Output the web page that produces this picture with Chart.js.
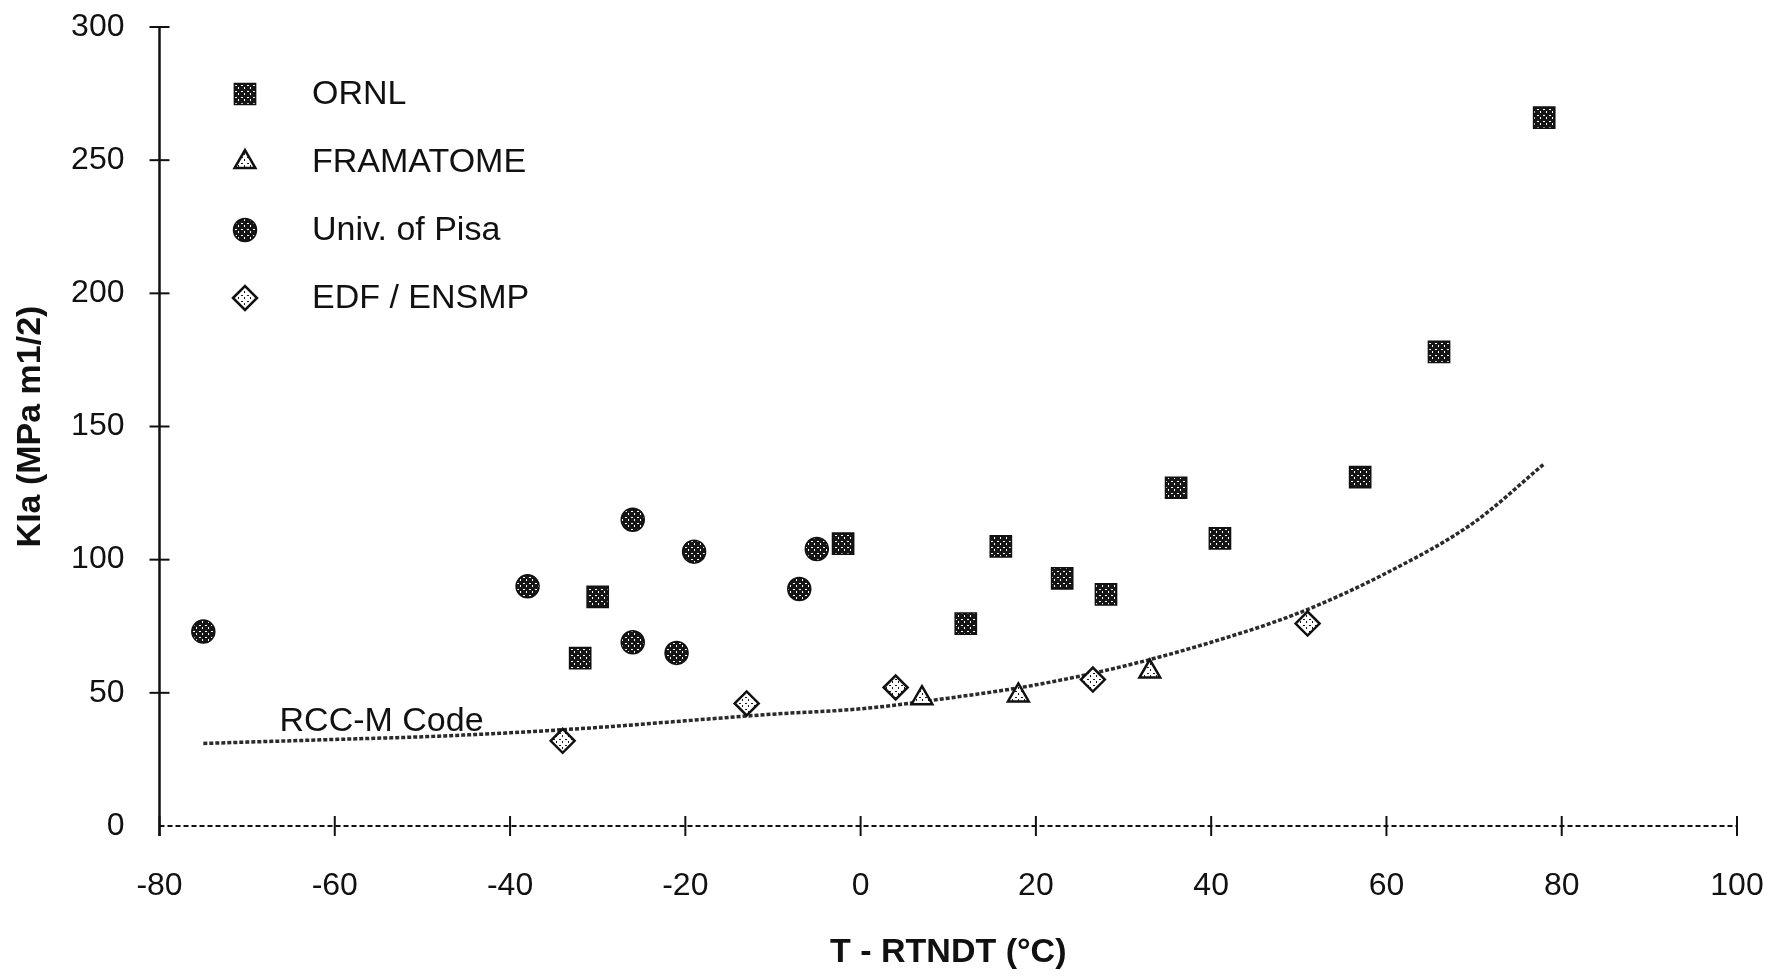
<!DOCTYPE html>
<html>
<head>
<meta charset="utf-8">
<title>KIa vs T - RTNDT</title>
<script src="https://cdn.jsdelivr.net/npm/chart.js"></script>
<style>
  body { margin: 0; background: #fff; }
  #wrap { width: 1774px; height: 979px; }
</style>
</head>
<body>
<div id="wrap"><canvas id="kiaChart" width="1774" height="979"></canvas></div>
<script>
// values
const ornlX = [-32, -30, -2, 12, 16, 23, 28, 36, 41, 57, 66, 78];
const ornlY = [63, 86, 106, 76, 105, 93, 87, 127, 108, 131, 178, 266];
const framX = [7, 18, 33];
const framY = [48, 49, 58];
const pisaX = [-75, -38, -26, -26, -21, -19, -7, -5];
const pisaY = [73, 90, 115, 69, 65, 103, 89, 104];
const edfX = [-34, -13, 4, 26.5, 51];
const edfY = [32, 46, 52, 55, 76];
// RCC-M reference curve, read at a few temperatures
const rccX = [-75, -70, -60, -50, -40, -30, -20, -10, 0, 10, 20, 30, 40, 50, 60, 70, 78];
const rccY = [31, 31.5, 32.5, 33.5, 35, 37, 39.5, 42, 44, 48, 53, 60, 69, 80, 95, 114, 136];
const xTicks = [-80, -60, -40, -20, 0, 20, 40, 60, 80, 100];
const yTicks = [0, 50, 100, 150, 200, 250, 300];
const seriesNames = ['ORNL', 'FRAMATOME', 'Univ. of Pisa', 'EDF / ENSMP'];
const curveLabel = 'RCC-M Code';

const FONT = '"Liberation Sans", Arial, Helvetica, sans-serif';

function pts(xs, ys) {
  return xs.map((x, i) => ({ x: x, y: ys[i] }));
}

// speckled fills to mimic the hatched markers of the scan
function speckle(bg, fg) {
  const c = document.createElement('canvas');
  c.width = 6; c.height = 6;
  const g = c.getContext('2d');
  g.fillStyle = bg; g.fillRect(0, 0, 6, 6);
  g.fillStyle = fg;
  g.fillRect(1, 1, 2, 1);
  g.fillRect(4, 3, 1, 2);
  return g.createPattern(c, 'repeat');
}
const darkFill = speckle('#161616', '#ffffff');
const lightFill = speckle('#ffffff', '#1a1a1a');

// axis lines and ticks that cross the axis, as in the original
const axisMarks = {
  id: 'axisMarks',
  beforeDatasetsDraw(chart) {
    const ctx = chart.ctx;
    const sx = chart.scales.x, sy = chart.scales.y;
    const x0 = sx.getPixelForValue(xTicks[0]);
    const y0 = sy.getPixelForValue(yTicks[0]);
    ctx.save();
    ctx.strokeStyle = '#111';
    // y axis
    ctx.lineWidth = 2.5;
    ctx.beginPath();
    ctx.moveTo(x0, sy.getPixelForValue(yTicks[yTicks.length - 1]));
    ctx.lineTo(x0, y0 + 10);
    ctx.stroke();
    ctx.lineWidth = 2;
    yTicks.forEach(v => {
      if (v === 0) return;
      const py = sy.getPixelForValue(v);
      ctx.beginPath();
      ctx.moveTo(x0 - 10, py);
      ctx.lineTo(x0 + 10, py);
      ctx.stroke();
    });
    // x axis (dotted in the scan)
    ctx.setLineDash([5, 3]);
    ctx.lineWidth = 2;
    ctx.beginPath();
    ctx.moveTo(x0, y0);
    ctx.lineTo(sx.getPixelForValue(xTicks[xTicks.length - 1]), y0);
    ctx.stroke();
    ctx.setLineDash([]);
    xTicks.forEach(v => {
      const px = sx.getPixelForValue(v);
      ctx.beginPath();
      ctx.moveTo(px, y0 - 10);
      ctx.lineTo(px, y0 + 10);
      ctx.stroke();
    });
    ctx.restore();
  }
};

// legend sitting inside the plot, top left
const insideLegend = {
  id: 'insideLegend',
  afterDraw(chart) {
    const ctx = chart.ctx;
    ctx.save();
    ctx.font = '34px ' + FONT;
    ctx.textBaseline = 'middle';
    ctx.textAlign = 'left';
    chart.data.datasets.forEach((ds, i) => {
      if (ds.showLine) return;
      const cy = 94 + i * 68;
      ctx.fillStyle = ds.pointBackgroundColor;
      ctx.strokeStyle = ds.pointBorderColor;
      ctx.lineWidth = ds.pointBorderWidth;
      Chart.helpers.drawPoint(ctx, {
        pointStyle: ds.pointStyle, radius: ds.pointRadius,
        rotation: 0, borderWidth: ds.pointBorderWidth
      }, 245, cy);
      ctx.fillStyle = '#111';
      ctx.fillText(ds.label, 312, cy + 1);
    });
    // curve label
    const sx = chart.scales.x, sy = chart.scales.y;
    ctx.textBaseline = 'alphabetic';
    ctx.fillText(curveLabel, sx.getPixelForValue(-66.3), sy.getPixelForValue(35.5));
    ctx.restore();
  }
};

const ctx = document.getElementById('kiaChart').getContext('2d');
new Chart(ctx, {
  type: 'scatter',
  data: {
    datasets: [
      {
        label: seriesNames[0], data: pts(ornlX, ornlY),
        pointStyle: 'rect', pointRadius: 15, pointHoverRadius: 15,
        pointBackgroundColor: darkFill, pointBorderColor: '#111', pointBorderWidth: 1.5
      },
      {
        label: seriesNames[1], data: pts(framX, framY),
        pointStyle: 'triangle', pointRadius: 12, pointHoverRadius: 12,
        pointBackgroundColor: lightFill, pointBorderColor: '#111', pointBorderWidth: 2.5
      },
      {
        label: seriesNames[2], data: pts(pisaX, pisaY),
        pointStyle: 'circle', pointRadius: 11.5, pointHoverRadius: 11.5,
        pointBackgroundColor: darkFill, pointBorderColor: '#111', pointBorderWidth: 1.5
      },
      {
        label: seriesNames[3], data: pts(edfX, edfY),
        pointStyle: 'rectRot', pointRadius: 12, pointHoverRadius: 12,
        pointBackgroundColor: lightFill, pointBorderColor: '#111', pointBorderWidth: 2.5
      },
      {
        label: curveLabel, data: pts(rccX, rccY),
        showLine: true, pointRadius: 0, pointHoverRadius: 0,
        borderColor: '#2a2a2a', borderWidth: 3.5, borderDash: [4, 2],
        cubicInterpolationMode: 'monotone', fill: false
      }
    ]
  },
  options: {
    responsive: false,
    animation: false,
    devicePixelRatio: 1,
    layout: { padding: { top: 27, right: 37, left: 0, bottom: 0 } },
    plugins: {
      legend: { display: false },
      tooltip: { enabled: false }
    },
    scales: {
      x: {
        type: 'linear', min: -80, max: 100,
        // fixed box, no extra room for the end labels
        afterFit: s => { s.height = 153; s.paddingLeft = 0; s.paddingRight = 0; },
        afterBuildTicks: s => { s.ticks = xTicks.map(v => ({ value: v })); },
        grid: { display: false, drawTicks: false },
        border: { display: false },
        ticks: { padding: 41, color: '#111', font: { family: FONT, size: 32 } },
        title: {
          display: true, text: 'T - RTNDT (°C)', color: '#111',
          font: { family: FONT, size: 34, weight: 'bold' },
          padding: { top: 0, bottom: 6 }
        }
      },
      y: {
        type: 'linear', min: 0, max: 300,
        afterFit: s => { s.width = 159.5; s.paddingTop = 0; s.paddingBottom = 0; },
        afterBuildTicks: s => { s.ticks = yTicks.map(v => ({ value: v })); },
        grid: { display: false, drawTicks: false },
        border: { display: false },
        ticks: { padding: 35, color: '#111', font: { family: FONT, size: 32 } },
        title: {
          display: true, text: 'KIa (MPa m1/2)', color: '#111',
          font: { family: FONT, size: 34, weight: 'bold' },
          padding: { top: 10, bottom: 0 }
        }
      }
    }
  },
  plugins: [axisMarks, insideLegend]
});
</script>
</body>
</html>
